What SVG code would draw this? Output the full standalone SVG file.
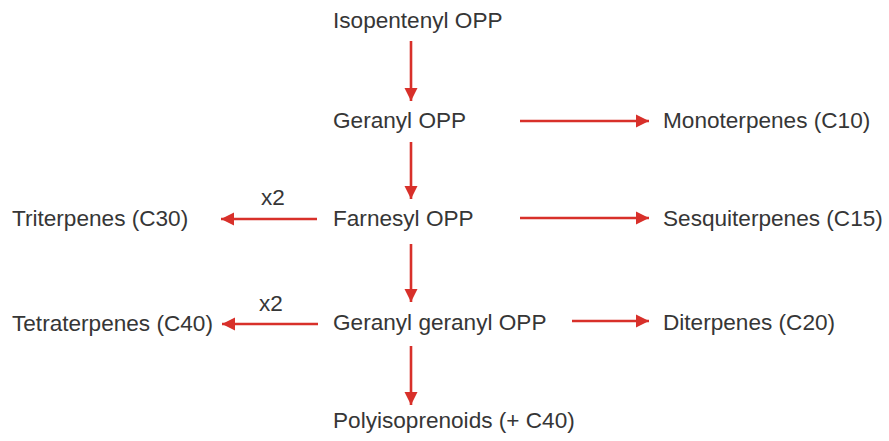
<svg xmlns="http://www.w3.org/2000/svg" width="889" height="441" viewBox="0 0 889 441">
<style>
text{font-family:"Liberation Sans",Arial,sans-serif;font-size:22.6px;fill:#363636}
.a{stroke:#d8302a;stroke-width:2.6;fill:none}
</style>
<defs>
<marker id="ah" markerUnits="userSpaceOnUse" markerWidth="14" markerHeight="14" refX="13" refY="7" orient="auto">
<path d="M0,0.5 L13,7 L0,13.5 Z" fill="#d8302a"/>
</marker>
</defs>
<rect width="889" height="441" fill="#fff"/>
<g id="connectors">
<line class="a" x1="411" y1="41" x2="411" y2="101" marker-end="url(#ah)"/>
<line class="a" x1="411" y1="142" x2="411" y2="199" marker-end="url(#ah)"/>
<line class="a" x1="411" y1="244" x2="411" y2="302" marker-end="url(#ah)"/>
<line class="a" x1="411" y1="346" x2="411" y2="405" marker-end="url(#ah)"/>
<line class="a" x1="520" y1="121" x2="649" y2="121" marker-end="url(#ah)"/>
<line class="a" x1="520" y1="218" x2="649" y2="218" marker-end="url(#ah)"/>
<line class="a" x1="572" y1="321" x2="649" y2="321" marker-end="url(#ah)"/>
<line class="a" x1="317" y1="219" x2="221" y2="219" marker-end="url(#ah)"/>
<line class="a" x1="318" y1="324" x2="222" y2="324" marker-end="url(#ah)"/>
<text x="261" y="205">x2</text>
<text x="259" y="311">x2</text>
</g>
<g id="isopentenyl"><text x="333" y="28">Isopentenyl OPP</text></g>
<g id="geranyl"><text x="333" y="128">Geranyl OPP</text></g>
<g id="monoterpenes"><text x="663" y="128">Monoterpenes (C10)</text></g>
<g id="farnesyl"><text x="333" y="226">Farnesyl OPP</text></g>
<g id="sesquiterpenes"><text x="663" y="226">Sesquiterpenes (C15)</text></g>
<g id="triterpenes"><text x="12" y="226">Triterpenes (C30)</text></g>
<g id="geranylgeranyl"><text x="333" y="330">Geranyl geranyl OPP</text></g>
<g id="diterpenes"><text x="663" y="330">Diterpenes (C20)</text></g>
<g id="tetraterpenes"><text x="12" y="331">Tetraterpenes (C40)</text></g>
<g id="polyisoprenoids"><text x="333" y="428">Polyisoprenoids (+ C40)</text></g>
</svg>
